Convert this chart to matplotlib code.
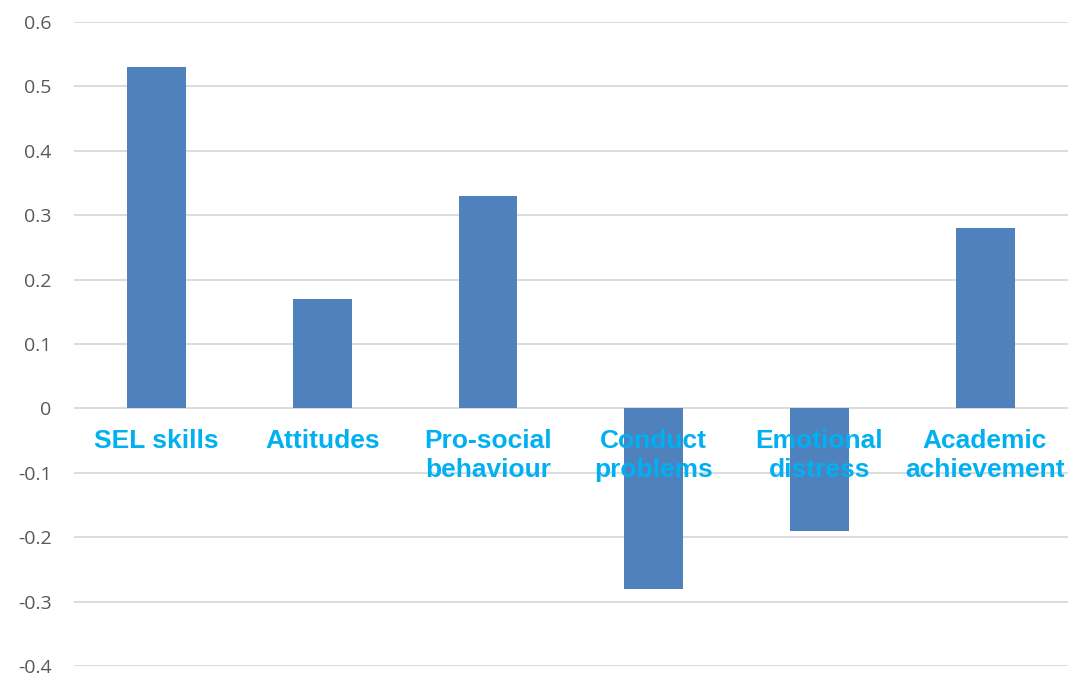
import matplotlib
matplotlib.use("Agg")
import matplotlib.pyplot as plt
from matplotlib.transforms import offset_copy

categories = ["SEL skills", "Attitudes", "Pro-social\nbehaviour", "Conduct\nproblems", "Emotional\ndistress", "Academic\nachievement"]
values = [0.53, 0.17, 0.33, -0.28, -0.19, 0.28]
yticks = [-0.4, -0.3, -0.2, -0.1, 0, 0.1, 0.2, 0.3, 0.4, 0.5, 0.6]
ytick_labels = ["-0.4", "-0.3", "-0.2", "-0.1", "0", "0.1", "0.2", "0.3", "0.4", "0.5", "0.6"]

fig = plt.figure(figsize=(10.70, 6.77), dpi=100)
ax = fig.add_axes([0.069, 0.0163, 0.929, 0.9512])

x = list(range(len(categories)))
ax.bar(x, values, width=0.356, color="#4F81BD", zorder=2)
ax.set_xlim(-0.5, len(categories) - 0.5)
ax.set_ylim(-0.4, 0.6)
ax.set_yticks(yticks)
ax.set_yticklabels(ytick_labels, fontfamily="Open Sans", fontsize=14, color="#595959")
ax.tick_params(axis="y", length=0, pad=16)
ax.set_xticks([])
ax.grid(axis="y", color="#D9D9D9", linewidth=1.3, zorder=0)
for s in ax.spines.values():
    s.set_visible(False)

trans = offset_copy(ax.transData, fig=fig, x=0, y=-15, units="points")
for xi, lab in zip(x, categories):
    ax.text(xi, 0, lab, transform=trans, ha="center", va="top",
            fontfamily="Liberation Sans", fontweight="bold", fontsize=19,
            color="#00B0F0", linespacing=1.27, zorder=3)

fig.savefig("out.png", dpi=100)
